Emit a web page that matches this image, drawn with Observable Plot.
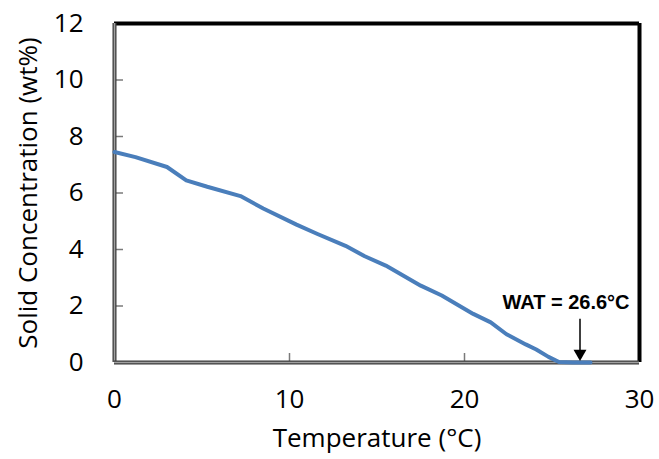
<!DOCTYPE html>
<html>
<head>
<meta charset="utf-8">
<script src="https://cdn.jsdelivr.net/npm/d3@7"></script>
<script src="https://cdn.jsdelivr.net/npm/@observablehq/plot@0.6"></script>
<style>
  html, body { margin: 0; padding: 0; background: #fff; }
  svg { display: block; }
</style>
</head>
<body>
<div id="chart"></div>
<script>
// Data
const temperature = [0, 1.2, 3.0, 4.1, 5.3, 7.2, 8.5, 10.4, 11.6, 13.2, 14.3, 15.5, 17.5, 18.7, 20.5, 21.5, 22.4, 23.5, 24.1, 24.8, 25.4, 26.2, 27.2];
const solidConc   = [7.45, 7.27, 6.92, 6.45, 6.22, 5.89, 5.45, 4.88, 4.55, 4.13, 3.76, 3.43, 2.72, 2.37, 1.72, 1.42, 1.0, 0.64, 0.46, 0.2, 0.02, 0.0, 0.0];
const xTicks = [0, 10, 20, 30];
const yTicks = [0, 2, 4, 6, 8, 10, 12];
const watValue = 26.6;
const watArrowTop = 1.55;
const watArrowBottom = 0.35;
const watLabel = ["WAT = 26.6°C"];
const watLabelY = 2.12;
const xTitle = "Temperature (°C)";
const yTitle = "Solid Concentration (wt%)";

const data = temperature.map((t, i) => ({t, c: solidConc[i]}));

const W = 659, H = 459;
const mL = 114, mR = 20, mT = 23, mB = 97;
const plotW = W - mL - mR, plotH = H - mT - mB;
const font = "'Open Sans', Lato, sans-serif";

const chart = Plot.plot({
  width: W,
  height: H,
  marginLeft: mL,
  marginRight: mR,
  marginTop: mT,
  marginBottom: mB,
  style: {fontFamily: font, background: "#fff", color: "#000", overflow: "visible"},
  x: {domain: [0, 30]},
  y: {domain: [0, 12]},
  marks: [
    // tick labels
    Plot.axisX(xTicks, {tickSize: 0, tickPadding: 27, fontSize: 26, label: null, fill: "#000"}),
    Plot.axisY(yTicks, {tickSize: 0, tickPadding: 31, fontSize: 26, label: null, fill: "#000"}),
    // inner tick marks
    Plot.tickY(yTicks.slice(1, -1), {y: d => d, stroke: "#7a7a7a", strokeWidth: 1.5, insetRight: plotW - 9}),
    Plot.tickX(xTicks.slice(1, -1), {x: d => d, stroke: "#7a7a7a", strokeWidth: 1.5, insetTop: plotH - 9}),
    // frame: top/right black
    Plot.ruleY([12], {stroke: "#000", strokeWidth: 4}),
    Plot.ruleX([30], {stroke: "#000", strokeWidth: 4, y1: 0, y2: 12}),
    // frame: left/bottom grey double line
    Plot.ruleX([0], {stroke: "#3a3a3a", strokeWidth: 4, y1: 0, y2: 12}),
    Plot.ruleX([0], {stroke: "#a0a0a0", strokeWidth: 1.5, y1: 0, y2: 12}),
    Plot.ruleY([0], {stroke: "#3a3a3a", strokeWidth: 4}),
    Plot.ruleY([0], {stroke: "#a0a0a0", strokeWidth: 1.5}),
    // data line
    Plot.line(data, {x: "t", y: "c", stroke: "#4a7ebb", strokeWidth: 4, strokeLinejoin: "round"}),
    // WAT annotation
    Plot.link([watValue], {x1: d => d, x2: d => d, y1: watArrowTop, y2: watArrowBottom, stroke: "#000", strokeWidth: 1.5}),
    Plot.dot([watValue], {x: d => d, y: 0, symbol: "triangle", rotate: 180, r: 4.8, fill: "#000", stroke: "none", dy: -9}),
    Plot.text(watLabel, {x: watValue, y: watLabelY, text: d => d, dx: -14, fontSize: 20, fontWeight: "bold", fontFamily: "'Liberation Sans', Arial, sans-serif", fill: "#000"}),
    // axis titles
    Plot.text([xTitle], {frameAnchor: "bottom", text: d => d, dy: 76, lineAnchor: "middle", textAnchor: "middle", fontSize: 26, fill: "#000"}),
    Plot.text([yTitle], {frameAnchor: "left", text: d => d, dx: -86, rotate: -90, textAnchor: "middle", lineAnchor: "middle", fontSize: 26, fill: "#000"})
  ]
});
document.getElementById("chart").appendChild(chart);
</script>
</body>
</html>
